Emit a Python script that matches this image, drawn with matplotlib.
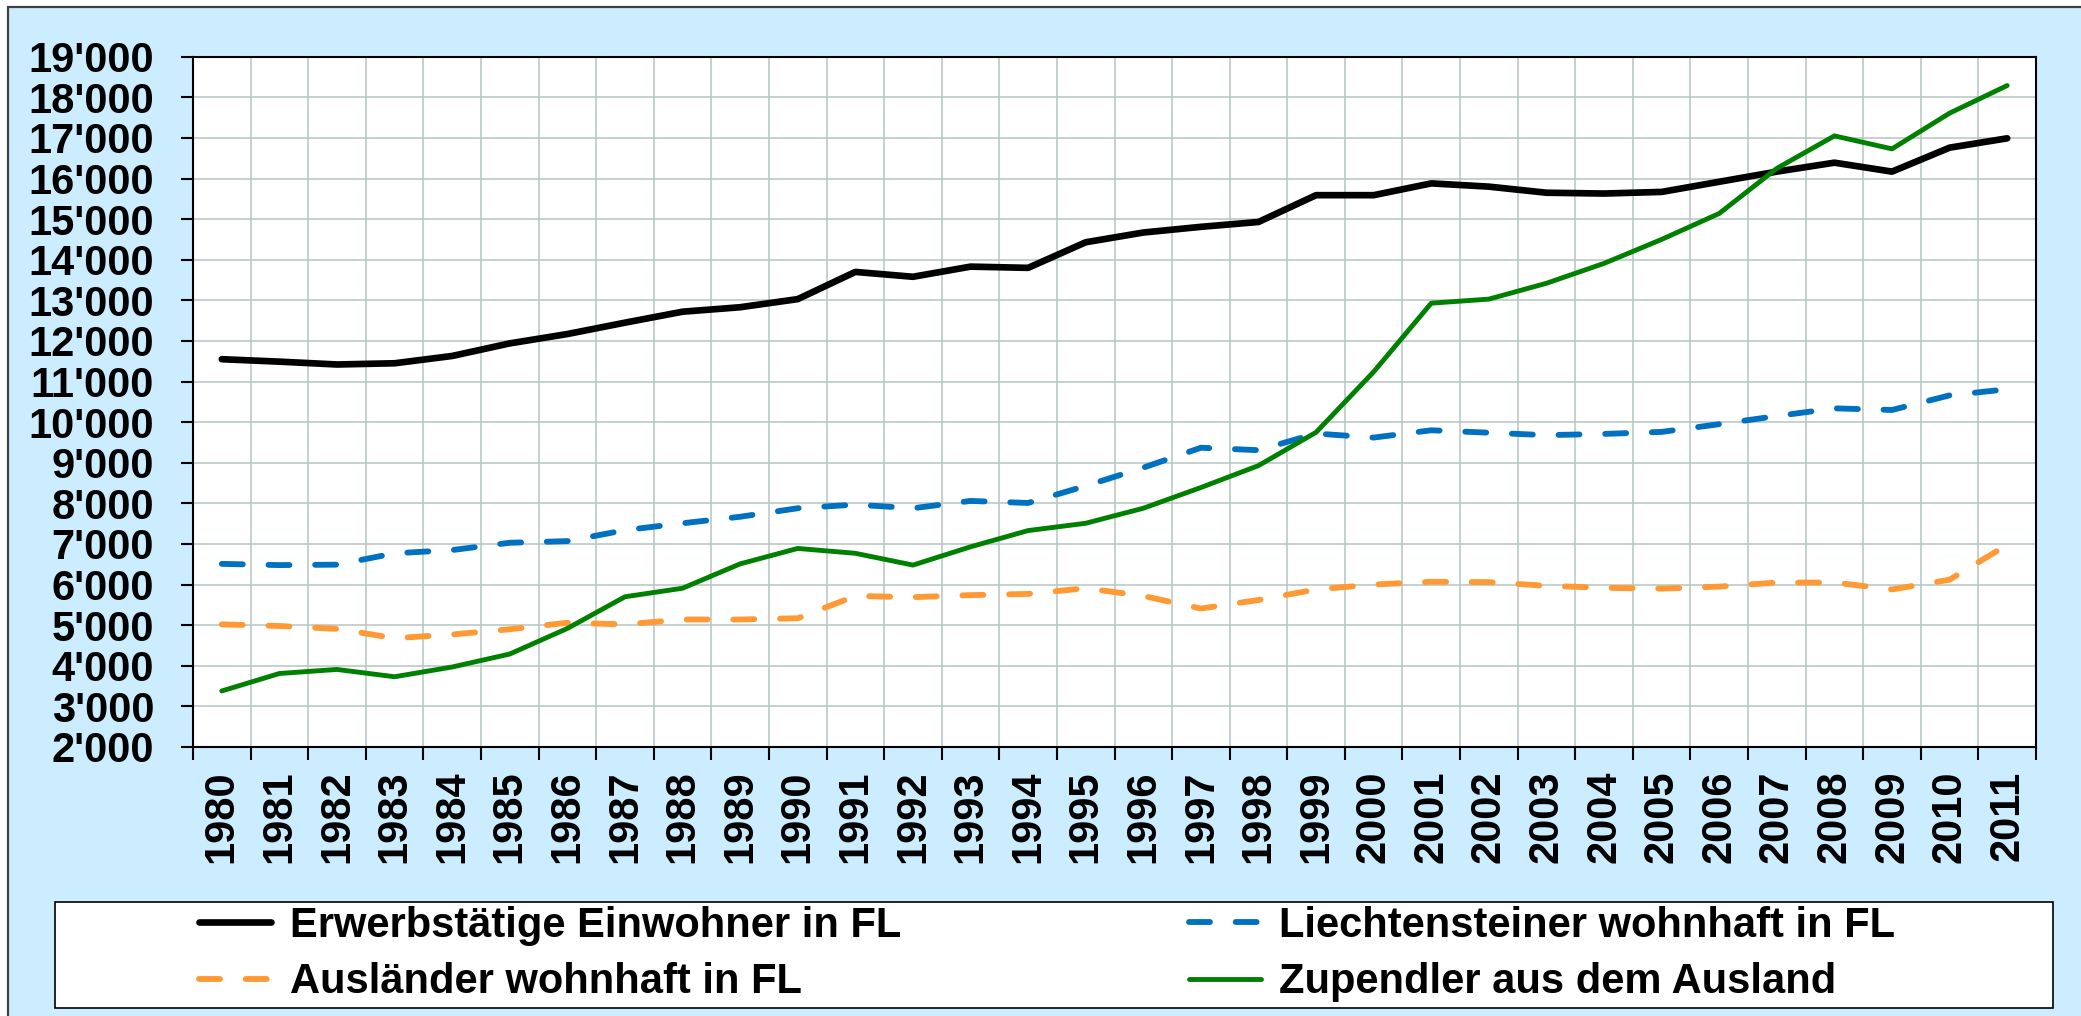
import numpy as np
import matplotlib
matplotlib.use("Agg")
import matplotlib.pyplot as plt
from matplotlib.patches import Rectangle
from matplotlib.ticker import FixedLocator, FuncFormatter

# =========================
# Daten
# =========================
years = list(range(1980, 2012))

erwerbstaetige = [11550, 11490, 11420, 11450, 11630, 11940, 12170, 12450, 12720, 12830,
                  13030, 13700, 13580, 13830, 13800, 14430, 14670, 14810, 14930, 15590,
                  15590, 15880, 15800, 15650, 15630, 15670, 15920, 16170, 16390, 16170,
                  16760, 16990]
liechtensteiner = [6510, 6480, 6490, 6770, 6850, 7030, 7070, 7340, 7510, 7670,
                   7880, 7970, 7880, 8060, 8010, 8430, 8880, 9370, 9310, 9720,
                   9620, 9800, 9740, 9680, 9710, 9760, 9950, 10150, 10340, 10300,
                   10660, 10810]
auslaender = [5020, 4980, 4910, 4680, 4770, 4900, 5060, 5020, 5140, 5140,
              5170, 5720, 5690, 5740, 5770, 5910, 5720, 5410, 5620, 5880,
              6000, 6070, 6060, 5970, 5920, 5900, 5950, 6050, 6050, 5880,
              6120, 6980]
zupendler = [3380, 3810, 3910, 3730, 3970, 4290, 4920, 5700, 5910, 6510,
             6890, 6770, 6480, 6930, 7330, 7510, 7880, 8390, 8930, 9750,
             11240, 12930, 13030, 13420, 13910, 14500, 15140, 16250, 17050, 16730,
             17610, 18290]

labels = ["Erwerbstätige Einwohner in FL", "Liechtensteiner wohnhaft in FL",
          "Ausländer wohnhaft in FL", "Zupendler aus dem Ausland"]

# =========================
# Stil
# =========================
BG = "#CCECFF"
GRID = "#B5C5C2"
FS = 30

plt.rcParams["font.family"] = ["Liberation Sans", "DejaVu Sans"]
plt.rcParams["font.weight"] = "bold"

W, H = 2081, 1016
fig = plt.figure(figsize=(W / 100, H / 100), dpi=100, facecolor="white")

# Hintergrund mit Rahmen (rechts/unten abgeschnitten)
fig.patches.append(Rectangle((8 / W, -0.1), 1.2, 1.1 - 7 / H, transform=fig.transFigure,
                             facecolor=BG, edgecolor="#404040", linewidth=1.6, zorder=-10))

ax = fig.add_axes([193 / W, 1 - 747 / H, (2036 - 193) / W, (747 - 56.7) / H])
ax.set_facecolor("white")

x = np.arange(len(years)) + 0.5

l_er, = ax.plot(x, erwerbstaetige, color="black", lw=4.8, solid_joinstyle="round",
                solid_capstyle="round")
l_li, = ax.plot(x, liechtensteiner, color="#0070C0", lw=4.2, dashes=(3.6, 4.4),
                dash_capstyle="round", dash_joinstyle="round")
l_au, = ax.plot(x, auslaender, color="#FF9933", lw=4.2, dashes=(3.6, 4.4),
                dash_capstyle="round", dash_joinstyle="round")
l_zu, = ax.plot(x, zupendler, color="#008000", lw=3.5, solid_joinstyle="round",
                solid_capstyle="round")

ax.set_xlim(0, len(years))
ax.set_ylim(2000, 19000)

ax.xaxis.set_major_locator(FixedLocator(np.arange(len(years) + 1)))
ax.xaxis.set_major_formatter(FuncFormatter(lambda v, p: ""))
ax.xaxis.set_minor_locator(FixedLocator(x))
ax.xaxis.set_minor_formatter(FuncFormatter(lambda v, p: str(years[int(v)])))
ax.set_yticks(np.arange(2000, 19001, 1000))
ax.yaxis.set_major_formatter(FuncFormatter(lambda v, p: f"{int(v):,}".replace(",", "'")))

ax.tick_params(axis="x", which="major", direction="out", length=9, width=1.5, color="black")
ax.tick_params(axis="x", which="minor", length=0, pad=17, labelsize=FS, labelrotation=90)
ax.tick_params(axis="y", which="major", direction="out", length=9, width=1.5,
               pad=19, labelsize=FS)
for t in ax.get_xticklabels(minor=True) + ax.get_yticklabels():
    t.set_fontweight("bold")

ax.grid(True, which="major", color=GRID, lw=1.1)
ax.set_axisbelow(True)
for s in ax.spines.values():
    s.set_color("black")
    s.set_linewidth(1.5)

# =========================
# Legende
# =========================
fig.patches.append(Rectangle((55 / W, 1 - 1007.5 / H), 1998 / W, 106 / H,
                             transform=fig.transFigure, facecolor="white",
                             edgecolor="black", linewidth=1.2, zorder=-5))
leg = fig.legend([l_er, l_au, l_li, l_zu], [labels[0], labels[2], labels[1], labels[3]],
                 ncol=2, loc="center left", bbox_to_anchor=(199 / W, 1 - 954 / H),
                 frameon=False, fontsize=FS, borderpad=0, borderaxespad=0,
                 handlelength=1.73, handletextpad=0.45, labelspacing=0.4,
                 columnspacing=6.9)
for t in leg.get_texts():
    t.set_fontweight("bold")

fig.savefig("out.png", dpi=100, facecolor="white")
